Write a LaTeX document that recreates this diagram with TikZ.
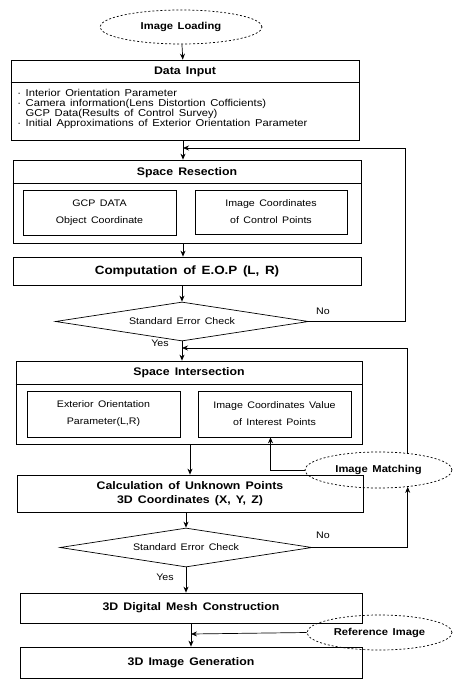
\documentclass[tikz,border=0pt]{standalone}
\usepackage{fontspec}
\setmainfont{Liberation Sans}[FakeStretch=1.12, WordSpace=1.5]
\usetikzlibrary{shapes.geometric,arrows.meta}

\begin{document}
\begin{tikzpicture}[x=1pt, y=-1pt, >={Stealth[length=6pt,width=5pt]}, line width=0.7pt,
    box/.style={draw, rectangle, inner sep=0pt},
    cloud/.style={draw, ellipse, dash pattern=on 2pt off 2pt, inner sep=0pt, font=\bfseries\fontsize{10}{12}\selectfont},
    check/.style={draw, diamond, shape aspect=6.5, inner sep=0pt, font=\fontsize{9.5}{11}\selectfont},
    title/.style={font=\bfseries\fontsize{11}{13}\selectfont},
    inner/.style={box, align=center, font=\fontsize{9.5}{17}\selectfont}]

    \useasboundingbox (0,0) rectangle (454,679);

    % Загрузка и входные данные
    \node[cloud, minimum width=162pt, minimum height=34pt] (load) at (181,27) {Image Loading};
    \node[box, minimum width=348pt, minimum height=80pt] (input) at (185,100) {};
    \node[title] (inputT) at (185,72) {Data Input};
    \draw ([yshift=-23pt]input.north west) -- ([yshift=-23pt]input.north east);
    \node[anchor=north west, align=left, inner sep=0pt, font=\fontsize{10}{10}\selectfont] (list) at (17,89)
        {· Interior Orientation Parameter\\
         · Camera information(Lens Distortion Cofficients)\\
         \phantom{· }GCP Data(Results of Control Survey)\\
         · Initial Approximations of Exterior Orientation Parameter};

    % Обратная засечка
    \node[box, minimum width=348pt, minimum height=83pt] (resec) at (187,201.5) {};
    \node[title] (resecT) at (187,173) {Space Resection};
    \draw ([yshift=-24pt]resec.north west) -- ([yshift=-24pt]resec.north east);
    \node[inner, minimum width=153pt, minimum height=45pt] (gcp) at (99.5,212.5) {GCP DATA\\Object Coordinate};
    \node[inner, minimum width=152pt, minimum height=44pt] (imgc) at (271,212) {Image Coordinates\\of Control Points};

    \node[box, minimum width=348pt, minimum height=28pt, font=\bfseries\fontsize{12}{14}\selectfont] (eop) at (187,271) {Computation of E.O.P (L, R)};
    \node[check, minimum width=253pt, minimum height=39pt] (chk1) at (182,321.5) {Standard Error Check};

    % Прямая засечка
    \node[box, minimum width=346pt, minimum height=83pt] (inter) at (189,402.5) {};
    \node[title] (interT) at (189,373) {Space Intersection};
    \draw ([yshift=-24pt]inter.north west) -- ([yshift=-24pt]inter.north east);
    \node[inner, minimum width=153pt, minimum height=46pt] (eo) at (103.5,414) {Exterior Orientation\\Parameter(L,R)};
    \node[inner, minimum width=153pt, minimum height=46pt] (ipv) at (274.5,414) {Image Coordinates Value\\of Interest Points};
    \node[cloud, minimum width=147pt, minimum height=36pt] (match) at (378.5,470) {Image Matching};

    \node[box, minimum width=346pt, minimum height=37pt, align=center, font=\bfseries\fontsize{11}{14}\selectfont] (calc) at (190,493.5)
        {Calculation of Unknown Points\\3D Coordinates (X, Y, Z)};
    \node[check, minimum width=252pt, minimum height=39pt] (chk2) at (186,547.5) {Standard Error Check};

    % Построение сетки и изображения
    \node[box, minimum width=342pt, minimum height=30pt, font=\bfseries\fontsize{11}{13}\selectfont] (mesh) at (191,608) {3D Digital Mesh Construction};
    \node[box, minimum width=342pt, minimum height=31pt, font=\bfseries\fontsize{11}{13}\selectfont] (gen) at (191,662.5) {3D Image Generation};
    \node[cloud, minimum width=145pt, minimum height=35pt] (ref) at (379.5,632.5) {Reference Image};

    % Точки стыковки
    \coordinate (j1) at (183,148);
    \coordinate (c1) at (405,148);
    \coordinate (j2) at (182,348);
    \coordinate (j3) at (191,634);

    % Связи
    \draw[->] (load) -- (input);
    \draw[->] (input.south -| j1) -- (resec.north -| j1);
    \draw[->] (chk1.east) -| (c1) -- (j1);
    \draw[->] (resec.south -| j1) -- (eop.north -| j1);
    \draw[->] (eop.south -| chk1) -- (chk1.north);
    \draw[->] (chk1.south) -- (inter.north -| chk1);
    \draw[->] (match.30) |- (j2);
    \draw[->] (match.west) -| ([xshift=-4pt]ipv.south);
    \draw[->] (inter.south -| calc) -- (calc.north);
    \draw[->] (calc.south -| chk2) -- (chk2.north);
    \draw[->] (chk2.east) -| (match.-30);
    \draw[->] (chk2.south) -- (mesh.north -| chk2);
    \draw[->] (mesh) -- (gen);
    \draw[->] (ref.west) -- (j3);

    % Подписи
    \node[font=\fontsize{9.5}{11}\selectfont] (no1) at (323,311) {No};
    \node[font=\fontsize{9.5}{11}\selectfont] (yes1) at (160,343) {Yes};
    \node[font=\fontsize{9.5}{11}\selectfont] (no2) at (323,535) {No};
    \node[font=\fontsize{9.5}{11}\selectfont] (yes2) at (165,577) {Yes};

\end{tikzpicture}
\end{document}
